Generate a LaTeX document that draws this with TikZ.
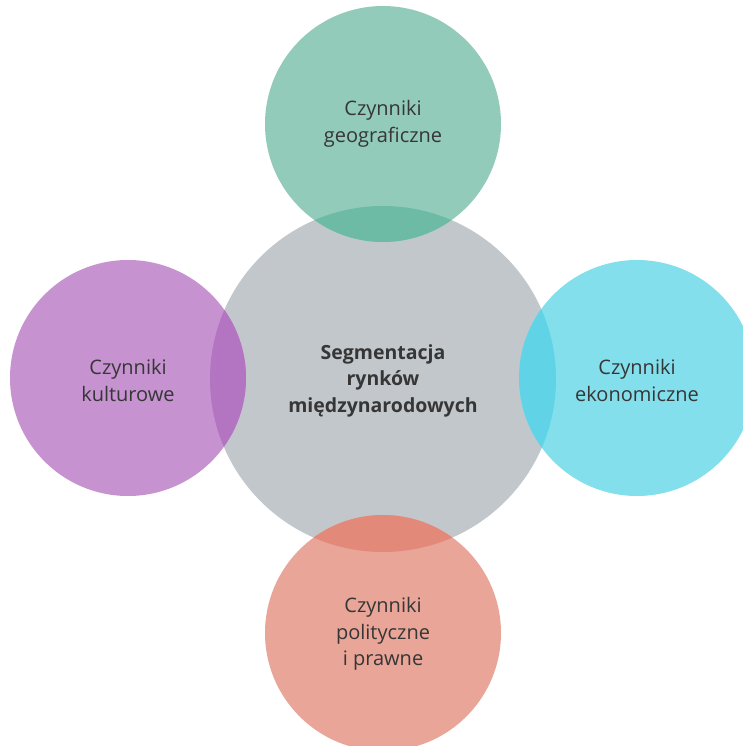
\documentclass[tikz,border=0pt]{standalone}
\usepackage{fontspec}
\setmainfont{Open Sans}
\definecolor{cgray}{HTML}{C2C7CB}
\definecolor{cgreen}{HTML}{93CBBB}
\definecolor{cgreenD}{HTML}{6DBBA5}
\definecolor{cpurple}{HTML}{C692D0}
\definecolor{cpurpleD}{HTML}{B374C2}
\definecolor{ccyan}{HTML}{84DFEC}
\definecolor{ccyanD}{HTML}{60D3E6}
\definecolor{csalmon}{HTML}{E9A597}
\definecolor{csalmonD}{HTML}{E2897A}
\definecolor{ctext}{HTML}{363636}
\tikzset{
  bigc/.style={circle, inner sep=0pt, minimum size=346pt, fill=cgray},
  smallc/.style={circle, inner sep=0pt, minimum size=236pt},
  lbl/.style={align=center, text=ctext, font=\fontsize{20}{26.5}\selectfont},
  clbl/.style={lbl, font=\fontsize{19.5}{26.5}\selectfont\bfseries}
}
\begin{document}
\begin{tikzpicture}[x=1pt,y=-1pt]
\useasboundingbox (0,0) rectangle (743,746);
\node[bigc] (mid) at (383,379) {};
\node[smallc, fill=cgreen] (top) at (383,124) {};
\node[smallc, fill=csalmon] (bot) at (383,633) {};
\node[smallc, fill=cpurple] (lft) at (128,378) {};
\node[smallc, fill=ccyan] (rgt) at (637,378) {};
\begin{scope}
  \clip (383,379) circle (173pt);
  \fill[cgreenD] (383,124) circle (118pt);
  \fill[csalmonD] (383,633) circle (118pt);
  \fill[cpurpleD] (128,378) circle (118pt);
  \fill[ccyanD] (637,378) circle (118pt);
\end{scope}
\node[clbl] (tmid) at (383,380.5) {Segmentacja\\rynków\\międzynarodowych};
\node[lbl] (ttop) at (383,124) {Czynniki\\geograficzne};
\node[lbl] (tbot) at (383,634) {Czynniki\\polityczne\\i prawne};
\node[lbl] (tlft) at (128,380.5) {Czynniki\\kulturowe};
\node[lbl] (trgt) at (637,380.5) {Czynniki\\ekonomiczne};
\end{tikzpicture}
\end{document}
